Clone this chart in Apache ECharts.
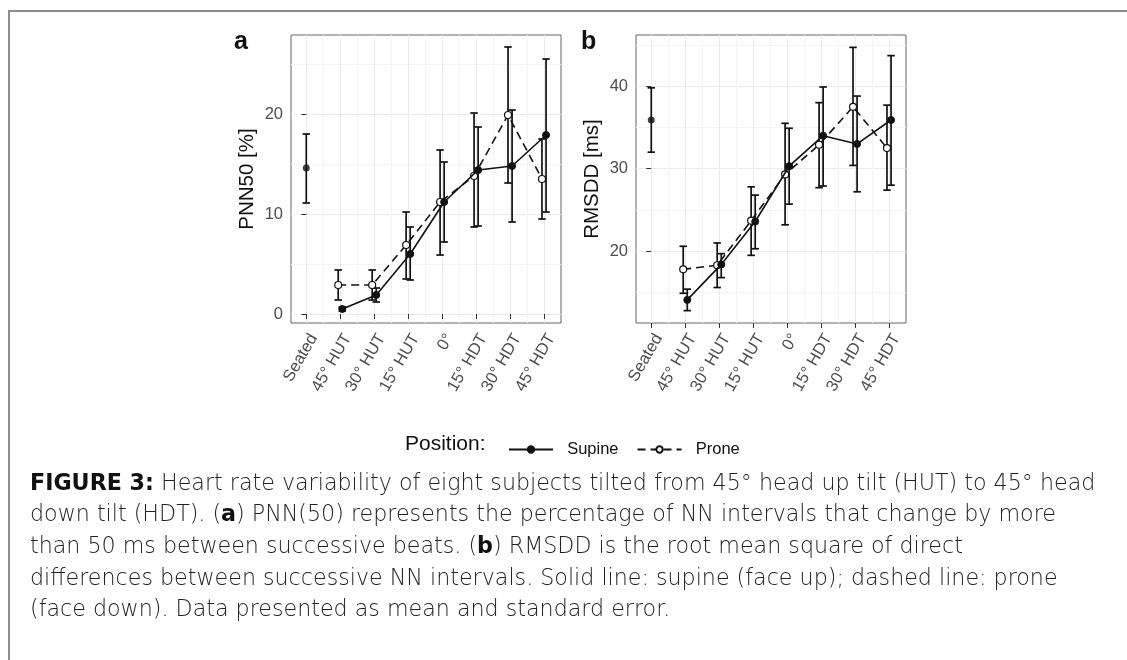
<!DOCTYPE html>
<html>
<head>
<meta charset="utf-8">
<script src="https://cdn.jsdelivr.net/npm/echarts@6/dist/echarts.min.js"></script>
<style>
  html, body { margin: 0; padding: 0; background: #fff; }
  #chart { width: 1127px; height: 660px; }
</style>
</head>
<body>
<div id="chart"></div>
<script>
const positions = ["Seated", "45° HUT", "30° HUT", "15° HUT", "0°", "15° HDT", "30° HDT", "45° HDT"];

// panel a: PNN50 [%]
const pnnSupine   = [14.6, 0.5, 1.9, 6.0, 11.2, 14.4, 14.8, 17.9];
const pnnSupineLo = [11.1, 0.3, 1.2, 3.4, 7.2, 8.8, 9.2, 10.2];
const pnnSupineHi = [18.0, 0.7, 2.6, 8.7, 15.2, 18.7, 20.4, 25.5];
const pnnProne    = [null, 2.9, 2.9, 6.9, 11.2, 13.8, 19.9, 13.5];
const pnnProneLo  = [null, 1.4, 1.4, 3.5, 5.9, 8.7, 13.1, 9.5];
const pnnProneHi  = [null, 4.4, 4.4, 10.2, 16.4, 20.1, 26.7, 17.5];
const pnnTicks = [0, 10, 20];

// panel b: RMSDD [ms]
const rmSupine   = [35.9, 14.1, 18.4, 23.6, 30.3, 34.0, 33.0, 35.9];
const rmSupineLo = [32.0, 12.8, 16.8, 20.3, 25.7, 27.9, 27.2, 28.0];
const rmSupineHi = [39.8, 15.4, 19.7, 26.8, 34.9, 39.9, 38.8, 43.7];
const rmProne    = [null, 17.8, 18.3, 23.7, 29.3, 32.9, 37.5, 32.5];
const rmProneLo  = [null, 14.9, 15.6, 19.5, 23.2, 27.7, 30.4, 27.4];
const rmProneHi  = [null, 20.6, 21.0, 27.8, 35.5, 38.0, 44.7, 37.7];
const rmTicks = [20, 30, 40];

const FONT = "Liberation Sans";
const DODGE = 0.06;

const chart = echarts.init(document.getElementById("chart"));

function pts(vals, off, from) {
  const out = [];
  vals.forEach((v, i) => {
    if (i >= from && v != null) out.push([i + off, v]);
  });
  return out;
}

function bars(lo, hi, off) {
  const out = [];
  lo.forEach((v, i) => {
    if (v != null) out.push([i + (i === 0 ? 0 : off), v, hi[i]]);
  });
  return out;
}

function errorSeries(data, idx) {
  return {
    type: "custom",
    xAxisIndex: idx,
    yAxisIndex: idx,
    z: 2,
    silent: true,
    data: data,
    renderItem: (params, api) => {
      const x = api.value(0);
      const lo = api.coord([x, api.value(1)]);
      const hi = api.coord([x, api.value(2)]);
      const l = api.coord([x - 0.11, api.value(1)])[0];
      const r = api.coord([x + 0.11, api.value(1)])[0];
      const st = { stroke: "#111", lineWidth: 1.7, fill: null };
      return {
        type: "group",
        children: [
          { type: "line", shape: { x1: lo[0], y1: lo[1], x2: hi[0], y2: hi[1] }, style: st },
          { type: "line", shape: { x1: l, y1: lo[1], x2: r, y2: lo[1] }, style: st },
          { type: "line", shape: { x1: l, y1: hi[1], x2: r, y2: hi[1] }, style: st }
        ]
      };
    }
  };
}

function supineLine(vals, idx) {
  return {
    name: "Supine",
    type: "line",
    xAxisIndex: idx,
    yAxisIndex: idx,
    z: 4,
    data: pts(vals, DODGE, 1),
    symbol: "circle",
    symbolSize: 7,
    lineStyle: { color: "#111", width: 1.6, type: "solid" },
    itemStyle: { color: "#111", borderColor: "#111", borderWidth: 1 }
  };
}

function seatedPoint(vals, idx) {
  return {
    name: "Supine",
    type: "scatter",
    xAxisIndex: idx,
    yAxisIndex: idx,
    z: 4,
    data: [[0, vals[0]]],
    symbol: "circle",
    symbolSize: 7,
    itemStyle: { color: "#111" }
  };
}

function proneLine(vals, idx) {
  return {
    name: "Prone",
    type: "line",
    xAxisIndex: idx,
    yAxisIndex: idx,
    z: 3,
    data: pts(vals, -DODGE, 1),
    symbol: "circle",
    symbolSize: 7,
    lineStyle: { color: "#111", width: 1.6, type: [8, 5] },
    itemStyle: { color: "#fff", borderColor: "#111", borderWidth: 1.2 }
  };
}

function xAxis(idx) {
  return {
    type: "value",
    gridIndex: idx,
    min: -0.45,
    max: 7.5,
    splitNumber: 8,
    axisLine: { show: false },
    axisTick: { show: true, length: 5, customValues: positions.map((p, i) => i), lineStyle: { color: "#333" } },
    axisLabel: {
      rotate: 60,
      margin: 8,
      align: "right",
      verticalAlign: "top",
      fontFamily: FONT,
      fontSize: 16.5,
      color: "#4d4d4d",
      customValues: positions.map((p, i) => i),
      formatter: (v) => (Number.isInteger(v) && positions[v] ? positions[v] : "")
    },
    splitLine: { show: true, lineStyle: { color: "#ebebeb", width: 1 } },
    minorTick: { show: false, splitNumber: 2 },
    minorSplitLine: { show: true, lineStyle: { color: "#f4f4f4", width: 1 } }
  };
}

function yAxis(idx, min, max, name, ticks) {
  return {
    type: "value",
    gridIndex: idx,
    min: min,
    max: max,
    splitNumber: 3,
    name: name,
    nameLocation: "middle",
    nameGap: 33,
    nameTextStyle: { fontFamily: FONT, fontSize: 20.5, color: "#111" },
    axisLine: { show: false },
    axisTick: { show: true, length: 5, customValues: ticks, lineStyle: { color: "#333" } },
    axisLabel: {
      margin: 8,
      fontFamily: FONT,
      fontSize: 16.5,
      color: "#4d4d4d",
      customValues: ticks,
      formatter: (v) => (v % 10 === 0 ? String(v) : "")
    },
    splitLine: { show: true, lineStyle: { color: "#ebebeb", width: 1 } },
    minorTick: { show: false, splitNumber: 2 },
    minorSplitLine: { show: true, lineStyle: { color: "#f4f4f4", width: 1 } }
  };
}

const caption =
  "{b|FIGURE 3:} Heart rate variability of eight subjects tilted from 45° head up tilt (HUT) to 45° head\n" +
  "down tilt (HDT). ({b|a}) PNN(50) represents the percentage of NN intervals that change by more\n" +
  "than 50 ms between successive beats. ({b|b}) RMSDD is the root mean square of direct\n" +
  "differences between successive NN intervals. Solid line: supine (face up); dashed line: prone\n" +
  "(face down). Data presented as mean and standard error.";

const options = {
  backgroundColor: "#fff",
  animation: false,
  grid: [
    { left: 291, top: 35, width: 270, height: 288, show: true, borderColor: "#666", borderWidth: 1, backgroundColor: "#fff", containLabel: false },
    { left: 636, top: 35, width: 270, height: 288, show: true, borderColor: "#666", borderWidth: 1, backgroundColor: "#fff", containLabel: false }
  ],
  xAxis: [xAxis(0), xAxis(1)],
  yAxis: [
    yAxis(0, -0.9, 27.9, "PNN50 [%]", pnnTicks),
    yAxis(1, 11.3, 46.2, "RMSDD [ms]", rmTicks)
  ],
  legend: {
    data: ["Supine", "Prone"],
    left: 503,
    top: 436,
    itemWidth: 44,
    itemHeight: 8,
    itemGap: 18,
    formatter: (n) => "  " + n,
    textStyle: { fontFamily: FONT, fontSize: 16.5, color: "#111" }
  },
  graphic: [
    { type: "polyline", shape: { points: [[9, 660], [9, 11], [1127, 11]] }, style: { stroke: "#8c8c8c", lineWidth: 2, fill: null } },
    { type: "text", left: 234, top: 30, style: { text: "a", font: "bold 25px 'Liberation Sans'", fill: "#111" } },
    { type: "text", left: 581, top: 30, style: { text: "b", font: "bold 25px 'Liberation Sans'", fill: "#111" } },
    { type: "text", left: 405, top: 434, style: { text: "Position:", font: "21px 'Liberation Sans'", fill: "#111" } },
    {
      type: "text",
      left: 30,
      top: 468,
      style: {
        text: caption,
        fontFamily: "DejaVu Sans",
        fontSize: 22.2,
        fontWeight: 200,
        lineHeight: 31.7,
        fill: "#222",
        rich: {
          b: { fontFamily: "DejaVu Sans", fontSize: 22.2, fontWeight: "bold", fill: "#111", lineHeight: 31.7 }
        }
      }
    }
  ],
  series: [
    supineLine(pnnSupine, 0),
    proneLine(pnnProne, 0),
    seatedPoint(pnnSupine, 0),
    errorSeries(bars(pnnSupineLo, pnnSupineHi, DODGE), 0),
    errorSeries(bars(pnnProneLo, pnnProneHi, -DODGE), 0),
    supineLine(rmSupine, 1),
    proneLine(rmProne, 1),
    seatedPoint(rmSupine, 1),
    errorSeries(bars(rmSupineLo, rmSupineHi, DODGE), 1),
    errorSeries(bars(rmProneLo, rmProneHi, -DODGE), 1)
  ]
};

chart.setOption(options);
</script>
</body>
</html>
